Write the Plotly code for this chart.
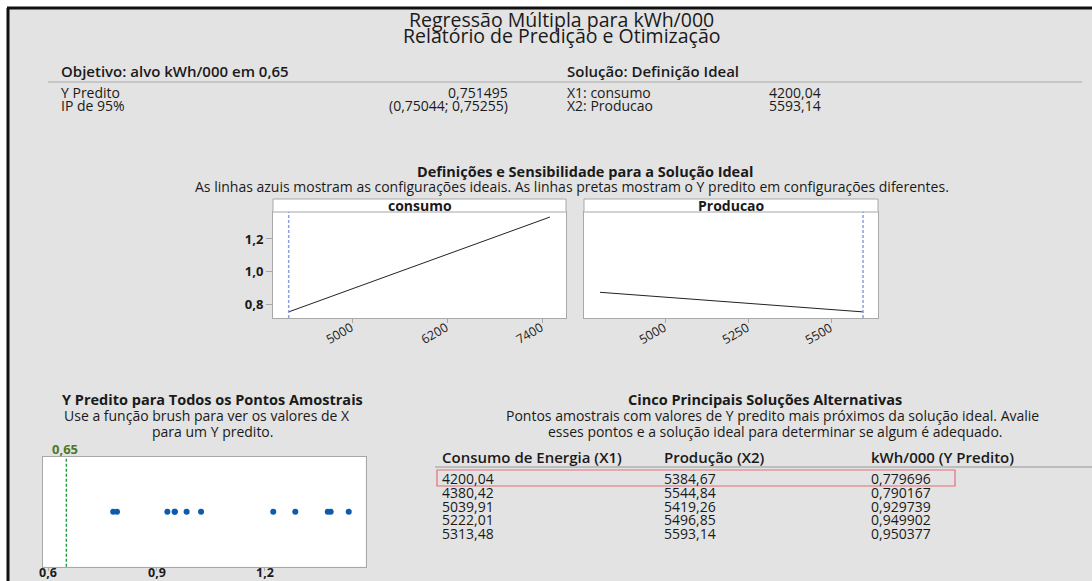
import plotly.graph_objects as go

W, H = 1092, 581
FONT = "Open Sans"
TXT = "#1a1a1a"

# Report header values
objective_label = "Objetivo: alvo kWh/000 em 0,65"
solution_label = "Solução: Definição Ideal"
pred_names = ["Y Predito", "IP de 95%"]
pred_values = ["0,751495", "(0,75044; 0,75255)"]
setting_names = ["X1: consumo", "X2: Producao"]
setting_values = ["4200,04", "5593,14"]

# Optimal settings and target response
opt_consumo = 4200.04
opt_producao = 5593.14
target_y = 0.65

# Sensitivity lines (predicted Y across each factor range)
consumo_x = [4200.04, 7500.0]
consumo_y = [0.7515, 1.335]
producao_x = [4805.0, 5593.14]
producao_y = [0.872, 0.7515]
consumo_ticks = [5000, 6200, 7400]
producao_ticks = [5000, 5250, 5500]
y_ticks = [0.8, 1.0, 1.2]

# Predicted Y for all sample points
sample_pred = [0.7797, 0.7902, 0.9297, 0.9499, 0.9504, 0.983, 1.023,
               1.223, 1.284, 1.374, 1.382, 1.432]
pred_ticks = [0.6, 0.9, 1.2]

# Top five alternative solutions
alt_headers = ["Consumo de Energia (X1)", "Produção (X2)", "kWh/000 (Y Predito)"]
alt_consumo = ["4200,04", "4380,42", "5039,91", "5222,01", "5313,48"]
alt_producao = ["5384,67", "5544,84", "5419,26", "5496,85", "5593,14"]
alt_pred = ["0,779696", "0,790167", "0,929739", "0,949902", "0,950377"]


def px(x):
    return x / W


def py(y):
    return 1 - y / H


fig = go.Figure()
ann = []
shapes = []


def text(x, y, s, size=14, bold=False, anchor="left", color=TXT, weight=None,
         xref="paper", vanchor="middle"):
    ann.append(dict(
        x=px(x) if xref == "paper" else x, y=py(y), xref=xref, yref="paper", text=s,
        showarrow=False, xanchor=anchor, yanchor=vanchor, borderpad=0, borderwidth=0,
        font=dict(family=FONT, size=size, color=color,
                  weight=weight if weight else (700 if bold else 400)),
    ))


def hline(x0, x1, y, color, width):
    shapes.append(dict(type="line", xref="paper", yref="paper", x0=px(x0), x1=px(x1),
                       y0=py(y), y1=py(y), line=dict(color=color, width=width)))


def fmt(v, nd):
    return f"{v:.{nd}f}".replace(".", ",")


# White strip along the top and left, dark edge lines of the report frame
shapes.append(dict(type="rect", xref="paper", yref="paper", x0=0, x1=1, y0=py(8), y1=1,
                   fillcolor="white", line=dict(width=0), layer="below"))
shapes.append(dict(type="rect", xref="paper", yref="paper", x0=0, x1=px(8), y0=0, y1=1,
                   fillcolor="white", line=dict(width=0), layer="below"))
hline(7, W, 8, "#111", 3)
shapes.append(dict(type="line", xref="paper", yref="paper", x0=px(8), x1=px(8),
                   y0=0, y1=py(8), line=dict(color="#111", width=3)))

# Titles
text(561, 19, "Regressão Múltipla para kWh/000", size=19.5, anchor="center")
text(561, 36, "Relatório de Predição e Otimização", size=19.5, anchor="center")

# Objective / solution block
text(61, 71, objective_label, size=15, weight=600)
text(567, 71, solution_label, size=15, weight=600)
hline(48, 1082, 82, "#a8a8a8", 1)
for i, (n, v) in enumerate(zip(pred_names, pred_values)):
    text(61, 92 + 13 * i, n)
    text(508, 92 + 13 * i, v, anchor="right")
for i, (n, v) in enumerate(zip(setting_names, setting_values)):
    text(567, 92 + 13 * i, n)
    text(769, 92 + 13 * i, v)

# Sensitivity section headings
text(585, 171, "Definições e Sensibilidade para a Solução Ideal", size=14.5, bold=True, anchor="center")
text(572, 186, "As linhas azuis mostram as configurações ideais. As linhas pretas mostram o Y predito em configurações diferentes.",
     size=14, anchor="center")

# Panel strips
for (x0, x1, lab) in [(273, 566, "consumo"), (584, 878, "Producao")]:
    shapes.append(dict(type="rect", xref="paper", yref="paper", x0=px(x0), x1=px(x1),
                       y0=py(212), y1=py(199), fillcolor="white",
                       line=dict(color="#a8a8a8", width=1)))
    hline(x0, x1, 212, "#d2d2d2", 2)
    text((x0 + x1) / 2, 205, lab, size=14, bold=True, anchor="center")

# Sensitivity traces
fig.add_trace(go.Scatter(x=consumo_x, y=consumo_y, mode="lines",
                         line=dict(color="#222", width=1), xaxis="x", yaxis="y",
                         showlegend=False, hoverinfo="skip"))
fig.add_trace(go.Scatter(x=producao_x, y=producao_y, mode="lines",
                         line=dict(color="#222", width=1), xaxis="x2", yaxis="y2",
                         showlegend=False, hoverinfo="skip"))
for xa, ya, xv in [("x", "y", opt_consumo), ("x2", "y2", opt_producao)]:
    shapes.append(dict(type="line", xref=xa, yref=ya + " domain", x0=xv, x1=xv, y0=0, y1=1,
                       line=dict(color="#8a9ee0", width=1.5, dash="3px,2px")))

# Rotated factor tick labels, ending just under each tick
for xa, ticks in [("x", consumo_ticks), ("x2", producao_ticks)]:
    for t in ticks:
        ann.append(dict(x=t, y=py(333), xref=xa, yref="paper", text=str(t),
                        showarrow=False, textangle=-30, xanchor="center", yanchor="middle",
                        xshift=-13, borderpad=0,
                        font=dict(family=FONT, size=12.5, color=TXT)))

# Sample point dot plot
fig.add_trace(go.Scatter(x=sample_pred, y=[0] * len(sample_pred), mode="markers",
                         marker=dict(color="#0b5cad", size=6), xaxis="x3", yaxis="y3",
                         showlegend=False, hoverinfo="skip"))
shapes.append(dict(type="line", xref="x3", yref="y3 domain", x0=target_y, x1=target_y, y0=0, y1=1,
                   line=dict(color="#1f9a3a", width=1.4, dash="3px,2px")))
text(65, 449, fmt(target_y, 2), size=13, bold=True, anchor="center", color="#4a7a2a")
for t in pred_ticks:
    text(t, 581, fmt(t, 1), size=12.5, bold=True, anchor="center", xref="x3", vanchor="bottom")

text(212, 399, "Y Predito para Todos os Pontos Amostrais", size=14.5, bold=True, anchor="center")
text(207, 415, "Use a função brush para ver os valores de X", anchor="center")
text(212, 431, "para um Y predito.", anchor="center")

# Alternatives table
text(765, 399, "Cinco Principais Soluções Alternativas", size=14.5, bold=True, anchor="center")
text(772, 415, "Pontos amostrais com valores de Y predito mais próximos da solução ideal. Avalie",
     anchor="center")
text(775, 431, "esses pontos e a solução ideal para determinar se algum é adequado.", anchor="center")
cols_x = [442, 664, 871]
for cx, h in zip(cols_x, alt_headers):
    text(cx, 457, h, size=15, weight=600)
hline(435, W, 467, "#b0b0b0", 1.5)
row_y = [478, 492, 506, 519.5, 533]
for ry, a, b, c in zip(row_y, alt_consumo, alt_producao, alt_pred):
    text(cols_x[0], ry, a)
    text(cols_x[1], ry, b)
    text(cols_x[2], ry, c)
shapes.append(dict(type="rect", xref="paper", yref="paper", x0=px(437), x1=px(955),
                   y0=py(486), y1=py(470), line=dict(color="#e0707a", width=1.2)))

axis_common = dict(showline=True, linecolor="#a8a8a8", linewidth=1, mirror=True,
                   showgrid=False, zeroline=False, ticks="outside", ticklen=4,
                   tickcolor="#a8a8a8", automargin=False)
plain_axis = dict(showline=True, linecolor="#a8a8a8", linewidth=1, mirror=True,
                  showgrid=False, zeroline=False, showticklabels=False, automargin=False)
ytickfont = dict(family=FONT, size=13, color=TXT, weight=700)

fig.update_layout(
    width=W, height=H, margin=dict(l=0, r=0, t=0, b=0, autoexpand=False),
    paper_bgcolor="#e3e3e3", plot_bgcolor="white",
    separators=",.",
    xaxis=dict(domain=[px(273), px(566)], range=[4002, 7703], anchor="y",
               tickvals=consumo_ticks, showticklabels=False, **axis_common),
    yaxis=dict(domain=[py(318), py(212)], range=[0.714, 1.366], anchor="x",
               tickvals=y_ticks, tickformat=".1f", tickfont=ytickfont,
               **{**axis_common, "ticklen": 6}),
    xaxis2=dict(domain=[px(584), px(878)], range=[4757, 5638], anchor="y2",
                tickvals=producao_ticks, showticklabels=False, **axis_common),
    yaxis2=dict(domain=[py(318), py(212)], range=[0.714, 1.366], anchor="x2", **plain_axis),
    xaxis3=dict(domain=[px(42.7), px(365.7)], range=[0.5845, 1.479], anchor="y3",
                tickvals=pred_ticks, showticklabels=False,
                **{**axis_common, "ticklen": 3}),
    yaxis3=dict(domain=[py(566.7), py(456.7)], range=[-1, 1], anchor="x3", **plain_axis),
    annotations=ann, shapes=shapes,
)

fig.write_html("out.html", config={"responsive": False})
